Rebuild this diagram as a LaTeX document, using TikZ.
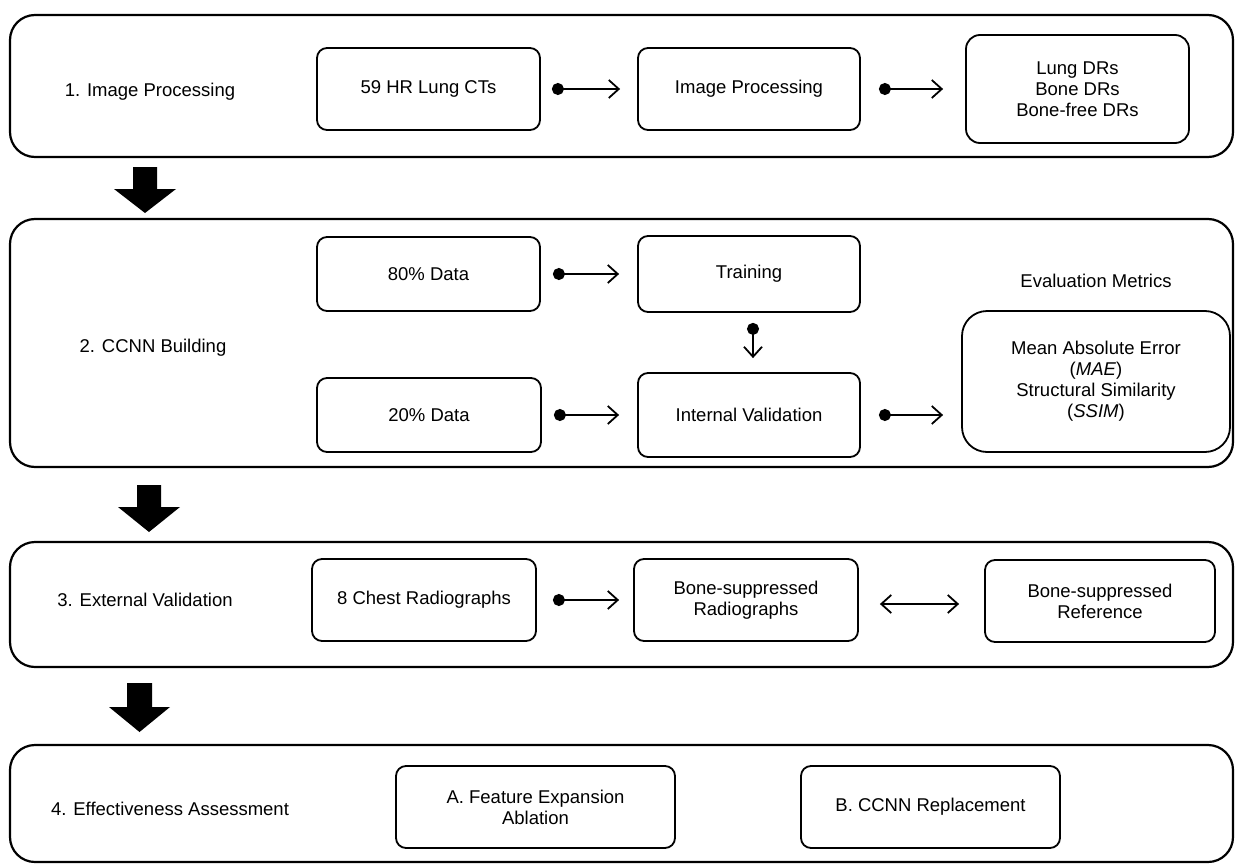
\documentclass[tikz,border=0pt]{standalone}
\usepackage{fontspec}
\setmainfont{Liberation Sans}
\usetikzlibrary{arrows.meta}
\begin{document}
\begin{tikzpicture}[x=1pt,y=-1pt,
  every node/.style={font=\fontsize{18.5}{21}\selectfont, align=center, inner sep=0pt},
  outbox/.style={draw, line width=2.2pt, rounded corners=25pt},
  inbox/.style={draw, line width=1.8pt, rounded corners=10pt},
  conn/.style={line width=1.8pt, {Circle[length=12pt]}-{Straight Barb[length=10pt,width=18pt,line width=1.8pt]}},
  dconn/.style={line width=1.8pt, {Straight Barb[length=10pt,width=18pt,line width=1.8pt]}-{Straight Barb[length=10pt,width=18pt,line width=1.8pt]}},
  bigarrow/.style={fill=black}
]
\fill[white] (0,0) rectangle (1236,864);
\useasboundingbox (0,0) rectangle (1236,864);

% section frames
\node[outbox, minimum width=1223pt, minimum height=142pt] (s1) at (621.5,86) {};
\node[outbox, minimum width=1223pt, minimum height=248pt] (s2) at (621.5,343) {};
\node[outbox, minimum width=1223pt, minimum height=125pt] (s3) at (621.5,604.5) {};
\node[outbox, minimum width=1223pt, minimum height=117pt] (s4) at (621.5,803.5) {};

% section labels
\node (l1) at (150,92) {1. Image Processing};
\node (l2) at (153,348) {2. CCNN Building};
\node (l3) at (145,600) {3. External Validation};
\node (l4) at (170,809) {4. Effectiveness Assessment};

% row 1
\node[inbox, minimum width=223pt, minimum height=82pt] (hr) at (428.5,89) {59 HR Lung CTs};
\node[inbox, minimum width=222pt, minimum height=82pt] (ip) at (749,89) {Image Processing};
\node[inbox, rounded corners=14pt, minimum width=223pt, minimum height=108pt] (lung) at (1077.5,89) {Lung DRs\\Bone DRs\\Bone-free DRs};
\draw[conn] ([xshift=11pt]hr.east) -- ([xshift=-17pt]ip.west);
\draw[conn] ([xshift=18pt]ip.east) -- ([xshift=-22pt]lung.west);

% row 2
\node[inbox, minimum width=223pt, minimum height=74pt] (d80) at (428.5,274) {80\% Data};
\node[inbox, minimum width=222pt, minimum height=76pt] (tr) at (749,274) {Training};
\node[inbox, minimum width=224pt, minimum height=74pt] (d20) at (429,415) {20\% Data};
\node[inbox, minimum width=222pt, minimum height=84pt] (iv) at (749,415) {Internal Validation};
\node (evt) at (1096,281) {Evaluation Metrics};
\node[inbox, rounded corners=25pt, minimum width=268pt, minimum height=141pt] (ev) at (1096,381.5) {Mean Absolute Error\\(\textit{MAE})\\Structural Similarity\\(\textit{SSIM})};
\draw[conn] ([xshift=12pt]d80.east) -- ([xshift=-18pt]tr.west);
\draw[conn] ([xshift=12pt]d20.east) -- ([xshift=-18pt]iv.west);
\draw[conn] ([xshift=4pt,yshift=-10pt]tr.south) -- ([xshift=4pt,yshift=14pt]iv.north);
\draw[conn] ([xshift=18pt]iv.east) -- ([xshift=-18pt]ev.west |- iv.east);

% row 3
\node[inbox, minimum width=224pt, minimum height=82pt] (ch) at (424,600) {8 Chest Radiographs};
\node[inbox, minimum width=224pt, minimum height=82pt] (bs) at (746,600) {Bone-suppressed\\Radiographs};
\node[inbox, minimum width=230pt, minimum height=82pt] (rf) at (1100,601) {Bone-suppressed\\Reference};
\draw[conn] ([xshift=16pt]ch.east) -- ([xshift=-14pt]bs.west);
\draw[dconn] ([xshift=21pt,yshift=-4pt]bs.east) -- ([xshift=-25pt,yshift=-3pt]rf.west);

% row 4
\node[inbox, minimum width=279pt, minimum height=82pt] (fa) at (535.5,807) {A. Feature Expansion\\Ablation};
\node[inbox, minimum width=259pt, minimum height=82pt] (cr) at (930.5,807) {B. CCNN Replacement};

% block arrows between sections
\fill[bigarrow] (133,167) -- (157,167) -- (157,189) -- (176,189) -- (145,213) -- (114,189) -- (133,189) -- cycle;
\fill[bigarrow] (137,485) -- (161,485) -- (161,507) -- (180,507) -- (149,532) -- (118,507) -- (137,507) -- cycle;
\fill[bigarrow] (127,683) -- (152,683) -- (152,707) -- (170,707) -- (139.5,732) -- (109,707) -- (127,707) -- cycle;
\end{tikzpicture}
\end{document}
